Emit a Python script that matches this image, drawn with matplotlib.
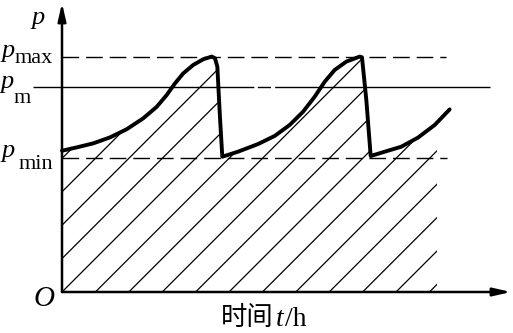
import numpy as np
import matplotlib.pyplot as plt

# pressure curve p(t) (t in h, p relative to axis top)
t_h = [0.00, 1.18, 2.52, 3.87, 5.21, 6.55, 7.63, 8.43, 9.10, 9.77,
       10.57, 11.38, 12.06, 12.32, 12.51, 12.72, 12.91,
       14.17, 15.79, 17.13, 18.34, 19.41, 20.35, 21.16, 21.96, 22.90,
       23.98, 24.16, 24.51, 24.86,
       25.99, 27.33, 28.67, 30.02, 31.22]
p_val = [0.591, 0.605, 0.622, 0.647, 0.681, 0.727, 0.775, 0.824, 0.873, 0.915,
         0.950, 0.974, 0.985, 0.978, 0.943, 0.733, 0.566,
         0.587, 0.619, 0.653, 0.699, 0.754, 0.817, 0.880, 0.929, 0.964,
         0.985, 0.982, 0.803, 0.569,
         0.587, 0.608, 0.646, 0.699, 0.764]

p_max = 0.983
p_m = 0.858
p_min = 0.561
t_hatch_end = 30.2

# layout: pixels per hour / per unit p, origin position in pixels
W, H = 513, 333
PX_H = 149 / 12
PX_P = 239
X0, Y0 = 62, 292

serif = 'Liberation Serif'

fig = plt.figure(figsize=(W / 100, H / 100), dpi=100)
ax = fig.add_axes([0, 0, 1, 1])
ax.set_xlim(-X0 / PX_H, (W - X0) / PX_H)
ax.set_ylim(-(H - Y0) / PX_P, Y0 / PX_P)
ax.axis('off')


def tx(x):
    return (x - X0) / PX_H


# hatched area under the curve
t_arr = np.array(t_h)
p_arr = np.array(p_val)
keep = t_arr <= t_hatch_end
poly_t = np.concatenate([[0], t_arr[keep], [t_hatch_end, t_hatch_end]])
poly_p = np.concatenate([[0], p_arr[keep], [np.interp(t_hatch_end, t_arr, p_arr), 0]])
region = ax.fill(poly_t, poly_p, facecolor='none', edgecolor='none')[0]

slope = PX_H / PX_P
step = 33.4 / PX_H
for k in range(-6, 13):
    tk = k * step
    tt = np.array([tk, tk + 1.3 / slope])
    ln, = ax.plot(tt, (tt - tk) * slope, color='black', lw=0.9)
    ln.set_clip_path(region)

# reference levels
ax.plot([0, tx(446)], [p_max, p_max], color='black', lw=1.0,
        linestyle=(0, (12, 5)))
ax.plot([0, tx(447)], [p_min, p_min], color='black', lw=1.0,
        linestyle=(0, (12, 5)))
ax.plot([tx(33), tx(490)], [p_m, p_m], color='black', lw=1.0,
        linestyle=(0, (159, 2.5, 9.5, 3, 400)))

# curve
ax.plot(t_h, p_val, color='black', lw=2.8, solid_joinstyle='round',
        solid_capstyle='round')

# axes with arrows
arrow = dict(arrowstyle='-|>,head_length=0.7,head_width=0.16',
             color='black', lw=1.8, mutation_scale=15, shrinkA=0, shrinkB=0)
ax.annotate('', xy=(0, Y0 / PX_P - 3 / PX_P), xytext=(0, 0), arrowprops=arrow)
ax.annotate('', xy=(tx(511), 0), xytext=(0, 0), arrowprops=arrow)


def label(x, y, s, size, style='normal', family=serif):
    fig.text(x / W, 1 - y / H, s, fontsize=size, fontstyle=style,
             family=family, ha='left', va='baseline')


label(32, 24, 'p', 19, 'italic')
label(2, 57, 'p', 19, 'italic')
label(15, 63, 'max', 16)
label(1, 88, 'p', 19, 'italic')
label(14, 103, 'm', 16)
label(2, 157, 'p', 19, 'italic')
label(19, 169, 'min', 16)
label(34, 306, 'O', 21, 'italic')
label(221, 325, '时间', 19, family=['Noto Sans CJK SC', 'DejaVu Sans'])
label(276, 326, 't', 20, 'italic')
label(285, 326, '/h', 20)

fig.savefig('out.png', dpi=100)
